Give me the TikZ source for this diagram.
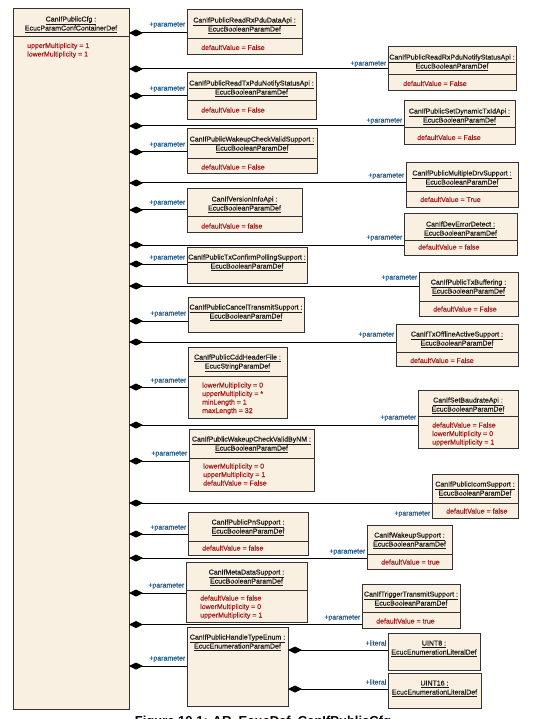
\documentclass[tikz,border=0pt]{standalone}
\usepackage{fontspec}
\setmainfont{Liberation Sans}
\newfontfamily\umlfont[FakeBold=0.4]{Liberation Sans}
\usetikzlibrary{arrows.meta}
\definecolor{boxfill}{HTML}{FAF0E1}
\definecolor{boxline}{HTML}{333333}
\definecolor{attrc}{HTML}{A02020}
\definecolor{lblc}{HTML}{1F5A8C}
\definecolor{hdrc}{HTML}{1A1A1A}
\tikzset{
  umlbox/.style={draw=boxline, line width=1pt, fill=boxfill, inner sep=0pt, outer sep=0pt, anchor=north west},
  hdr/.style={font=\umlfont\fontsize{7}{8}\selectfont, text=hdrc, inner sep=0pt, anchor=base},
  attr/.style={font=\umlfont\fontsize{7}{8}\selectfont, text=attrc, inner sep=0pt, anchor=base west},
  lbl/.style={font=\umlfont\fontsize{7}{8}\selectfont, text=lblc, inner sep=0pt, anchor=base east},
  comp/.style={draw=black, line width=1pt, {Diamond[length=14pt,width=7pt]}-},
  sepline/.style={draw=boxline, line width=1pt},
  caption/.style={font=\bfseries\fontsize{13}{15}\selectfont, inner sep=0pt, anchor=north}
}
\newcommand{\umlcls}[7]{%
  \node[umlbox, minimum width={(#4-#2)*1pt}, minimum height={(#5-#3)*1pt}] (#1) at (#2,#3) {};
  \node[hdr] (#1-h1) at ({(#2+#4)/2},{#3+12.5}) {\underline{#6}};
  \node[hdr] (#1-h2) at ({(#2+#4)/2},{#3+21.5}) {\underline{#7}};
}
\newcommand{\umlsep}[2]{\draw[sepline] (#1.west |- 0,#2) -- (#1.east |- 0,#2);}
\newcommand{\umlattrs}[4]{%
  \foreach \attrtext [count=\i] in {#4} {\node[attr] (#1-a\i) at (#2,{#3+(\i-1)*8.5}) {\attrtext};}
}
\newcommand{\conn}[5]{%
  \draw[comp] (#1.east |- 0,#3) -- (#2.west |- 0,#3);
  \path (#2.west |- 0,#4) ++(-1.5,2.5) node[lbl] (#2-lbl) {#5};
}
\begin{document}
\begin{tikzpicture}[x=1pt,y=-1pt]
\fill[white] (0,0) rectangle (535,719);
\useasboundingbox (0,0) rectangle (535,719);
\clip (0,0) rectangle (535,719);

% main container
\umlcls{main}{13}{9}{129}{709}{CanIfPublicCfg :}{EcucParamConfContainerDef}
\umlsep{main}{37}
\umlattrs{main}{27}{48}{upperMultiplicity = 1, lowerMultiplicity = 1}

% parameter boxes
\umlcls{rrx}{187}{10}{302}{55}{CanIfPublicReadRxPduDataApi :}{EcucBooleanParamDef}
\umlsep{rrx}{39}
\umlattrs{rrx}{201}{50}{defaultValue = False}

\umlcls{rrxn}{388}{47}{516}{91}{CanIfPublicReadRxPduNotifyStatusApi :}{EcucBooleanParamDef}
\umlsep{rrxn}{75}
\umlattrs{rrxn}{403}{86}{defaultValue = False}

\umlcls{rtx}{187}{73}{316}{120}{CanIfPublicReadTxPduNotifyStatusApi :}{EcucBooleanParamDef}
\umlsep{rtx}{101}
\umlattrs{rtx}{201}{112.5}{defaultValue = False}

\umlcls{sdyn}{404}{101}{515}{145}{CanIfPublicSetDynamicTxIdApi :}{EcucBooleanParamDef}
\umlsep{sdyn}{128}
\umlattrs{sdyn}{417}{140}{defaultValue = False}

\umlcls{wcv}{187}{129}{317}{174}{CanIfPublicWakeupCheckValidSupport :}{EcucBooleanParamDef}
\umlsep{wcv}{159}
\umlattrs{wcv}{201}{169.5}{defaultValue = False}

\umlcls{mdrv}{406}{163}{518}{208}{CanIfPublicMultipleDrvSupport :}{EcucBooleanParamDef}
\umlsep{mdrv}{192}
\umlattrs{mdrv}{420}{202}{defaultValue = True}

\umlcls{ver}{187}{189}{302}{232}{CanIfVersionInfoApi :}{EcucBooleanParamDef}
\umlsep{ver}{217}
\umlattrs{ver}{201}{228.5}{defaultValue = false}

\umlcls{dev}{404}{214}{517}{255}{CanIfDevErrorDetect :}{EcucBooleanParamDef}
\umlsep{dev}{240}
\umlattrs{dev}{418}{249.5}{defaultValue = false}

\umlcls{txc}{187}{247}{307}{283}{CanIfPublicTxConfirmPollingSupport :}{EcucBooleanParamDef}

\umlcls{txb}{419}{272}{518}{316}{CanIfPublicTxBuffering :}{EcucBooleanParamDef}
\umlsep{txb}{301}
\umlattrs{txb}{433}{311.5}{defaultValue = False}

\umlcls{cancel}{188}{297}{304}{332}{CanIfPublicCancelTransmitSupport :}{EcucBooleanParamDef}

\umlcls{txoff}{396}{324}{518}{366}{CanIfTxOfflineActiveSupport :}{EcucBooleanParamDef}
\umlsep{txoff}{352}
\umlattrs{txoff}{410}{363}{defaultValue = False}

\umlcls{cdd}{188}{347}{287}{418}{CanIfPublicCddHeaderFile :}{EcucStringParamDef}
\umlsep{cdd}{376}
\umlattrs{cdd}{202}{387.5}{lowerMultiplicity = 0, upperMultiplicity = *, minLength = 1, maxLength = 32}

\umlcls{baud}{418}{390}{518}{448}{CanIfSetBaudrateApi :}{EcucBooleanParamDef}
\umlsep{baud}{416}
\umlattrs{baud}{432}{427.5}{defaultValue = False, lowerMultiplicity = 0, upperMultiplicity = 1}

\umlcls{bynm}{189}{429}{314}{491}{CanIfPublicWakeupCheckValidByNM :}{EcucBooleanParamDef}
\umlsep{bynm}{458}
\umlattrs{bynm}{203}{468.5}{lowerMultiplicity = 0, upperMultiplicity = 1, defaultValue = False}

\umlcls{icom}{432}{474}{518}{518}{CanIfPublicIcomSupport :}{EcucBooleanParamDef}
\umlsep{icom}{503}
\umlattrs{icom}{446}{513.5}{defaultValue = false}

\umlcls{pn}{188}{512}{308}{555}{CanIfPublicPnSupport :}{EcucBooleanParamDef}
\umlsep{pn}{541}
\umlattrs{pn}{202}{550.5}{defaultValue = false}

\umlcls{wk}{367}{525}{452}{569}{CanIfWakeupSupport :}{EcucBooleanParamDef}
\umlsep{wk}{554}
\umlattrs{wk}{381}{564.5}{defaultValue = true}

\umlcls{meta}{186}{562}{307}{622}{CanIfMetaDataSupport :}{EcucBooleanParamDef}
\umlsep{meta}{590}
\umlattrs{meta}{200}{600.5}{defaultValue = false, lowerMultiplicity = 0, upperMultiplicity = 1}

\umlcls{trig}{362}{584}{460}{628}{CanIfTriggerTransmitSupport :}{EcucBooleanParamDef}
\umlsep{trig}{612}
\umlattrs{trig}{376}{623.5}{defaultValue = true}

\umlcls{handle}{187}{627}{288}{706}{CanIfPublicHandleTypeEnum :}{EcucEnumerationParamDef}
\umlcls{ueight}{388}{633}{480}{670}{UINT8 :}{EcucEnumerationLiteralDef}
\umlcls{usixteen}{388}{673}{481}{708}{UINT16 :}{EcucEnumerationLiteralDef}

% connectors
\conn{main}{rrx}{33}{24}{+parameter}
\conn{main}{rrxn}{69}{63}{+parameter}
\conn{main}{rtx}{96}{88}{+parameter}
\conn{main}{sdyn}{126}{120}{+parameter}
\conn{main}{wcv}{152}{144}{+parameter}
\conn{main}{mdrv}{183}{175}{+parameter}
\conn{main}{ver}{210}{202}{+parameter}
\conn{main}{dev}{245}{237}{+parameter}
\conn{main}{txc}{264}{257}{+parameter}
\conn{main}{txb}{286}{277}{+parameter}
\conn{main}{cancel}{321}{313}{+parameter}
\conn{main}{txoff}{342}{334}{+parameter}
\conn{main}{cdd}{387}{380}{+parameter}
\conn{main}{baud}{425}{417}{+parameter}
\conn{main}{bynm}{461}{453}{+parameter}
\conn{main}{icom}{503}{513}{+parameter}
\conn{main}{pn}{534}{527}{+parameter}
\conn{main}{wk}{558}{551}{+parameter}
\conn{main}{meta}{593}{585}{+parameter}
\conn{main}{trig}{624.5}{617}{+parameter}
\conn{main}{handle}{666}{658}{+parameter}
\conn{handle}{ueight}{650}{643}{+literal}
\conn{handle}{usixteen}{689}{682}{+literal}

% caption (cut off at the bottom edge, as in the reference)
\node[caption] (cap) at (263,715.5) {Figure 10.1: AR\_EcucDef\_CanIfPublicCfg};
\end{tikzpicture}
\end{document}
